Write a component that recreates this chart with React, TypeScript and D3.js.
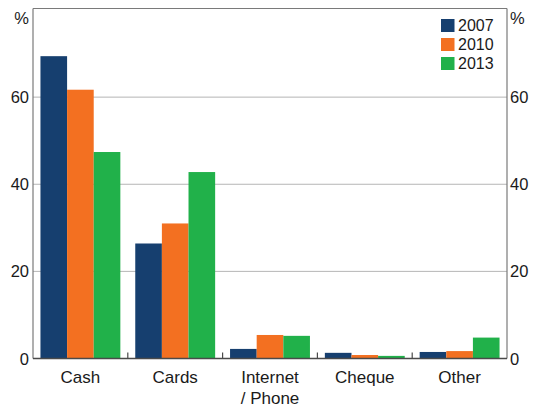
import React from "react";
import * as d3 from "d3";

const categories = ["Cash", "Cards", "Internet\n/ Phone", "Cheque", "Other"];
const years = ["2007", "2010", "2013"];
const values2007 = [69.4, 26.4, 2.2, 1.3, 1.5];
const values2010 = [61.7, 31.0, 5.4, 0.8, 1.7];
const values2013 = [47.4, 42.8, 5.2, 0.6, 4.8];
const yTicks = [0, 20, 40, 60];
const colors = ["#163f6f", "#f37021", "#21b14a"];

const W = 541;
const H = 407;
const left = 33;
const right = 507;
const top = 10;
const bottom = 358.5;

export default function App() {
  const series = [values2007, values2010, values2013];
  const x = d3.scaleBand<string>().domain(categories).range([left, right]).paddingInner(0).paddingOuter(0);
  const xInner = d3
    .scaleBand<string>()
    .domain(years)
    .range([0, x.bandwidth()])
    .paddingInner(0)
    .paddingOuter(0.28);
  const y = d3.scaleLinear().domain([0, 80]).range([bottom, top]);
  const font = "'Liberation Sans', Arial, sans-serif";

  return (
    <svg
      width={W}
      height={H}
      style={{ position: "absolute", left: 0, top: 0, background: "#fff" }}
      fontFamily={font}
    >
      {yTicks
        .filter((t) => t > 0)
        .map((t) => (
          <line key={t} x1={left} x2={right} y1={y(t)} y2={y(t)} stroke="#b5b5b5" strokeWidth={1} />
        ))}
      {categories.map((c, ci) =>
        years.map((yr, si) => {
          const v = series[si][ci];
          return (
            <rect
              key={c + yr}
              x={(x(c) as number) + (xInner(yr) as number)}
              y={y(v)}
              width={xInner.bandwidth()}
              height={bottom - y(v)}
              fill={colors[si]}
            />
          );
        })
      )}
      <line x1={left} x2={left} y1={top - 1.5} y2={bottom} stroke="#7a7a7a" strokeWidth={1.2} />
      <line x1={right} x2={right} y1={top - 1.5} y2={bottom} stroke="#7a7a7a" strokeWidth={1.2} />
      <line x1={left} x2={right} y1={top - 1.5} y2={top - 1.5} stroke="#7a7a7a" strokeWidth={1.2} />
      <line x1={left} x2={right} y1={bottom} y2={bottom} stroke="#4a4a4a" strokeWidth={1.5} />
      {categories.slice(1).map((c) => (
        <line key={c} x1={x(c) as number} x2={x(c) as number} y1={bottom} y2={bottom - 6} stroke="#4a4a4a" strokeWidth={1.2} />
      ))}
      {yTicks.map((t) => (
        <g key={t}>
          <text x={left - 4} y={y(t) + 6} textAnchor="end" fontSize={16.5} fill="#1a1a1a">
            {t}
          </text>
          <text x={right + 3} y={y(t) + 6} textAnchor="start" fontSize={16.5} fill="#1a1a1a">
            {t}
          </text>
        </g>
      ))}
      <text x={left - 4} y={24} textAnchor="end" fontSize={16.5} fill="#1a1a1a">%</text>
      <text x={right + 3} y={24} textAnchor="start" fontSize={16.5} fill="#1a1a1a">%</text>
      {categories.map((c) => {
        const lines = c.split("\n");
        const cx = (x(c) as number) + x.bandwidth() / 2;
        return (
          <text key={c} x={cx} textAnchor="middle" fontSize={17} fill="#1a1a1a">
            {lines.map((l, i) => (
              <tspan key={i} x={cx} y={383 + i * 21}>
                {l}
              </tspan>
            ))}
          </text>
        );
      })}
      {years.map((yr, i) => (
        <g key={yr}>
          <rect x={441} y={19 + i * 19} width={13.5} height={13} fill={colors[i]} />
          <text x={458} y={31 + i * 19} fontSize={16} fill="#1a1a1a">
            {yr}
          </text>
        </g>
      ))}
    </svg>
  );
}
